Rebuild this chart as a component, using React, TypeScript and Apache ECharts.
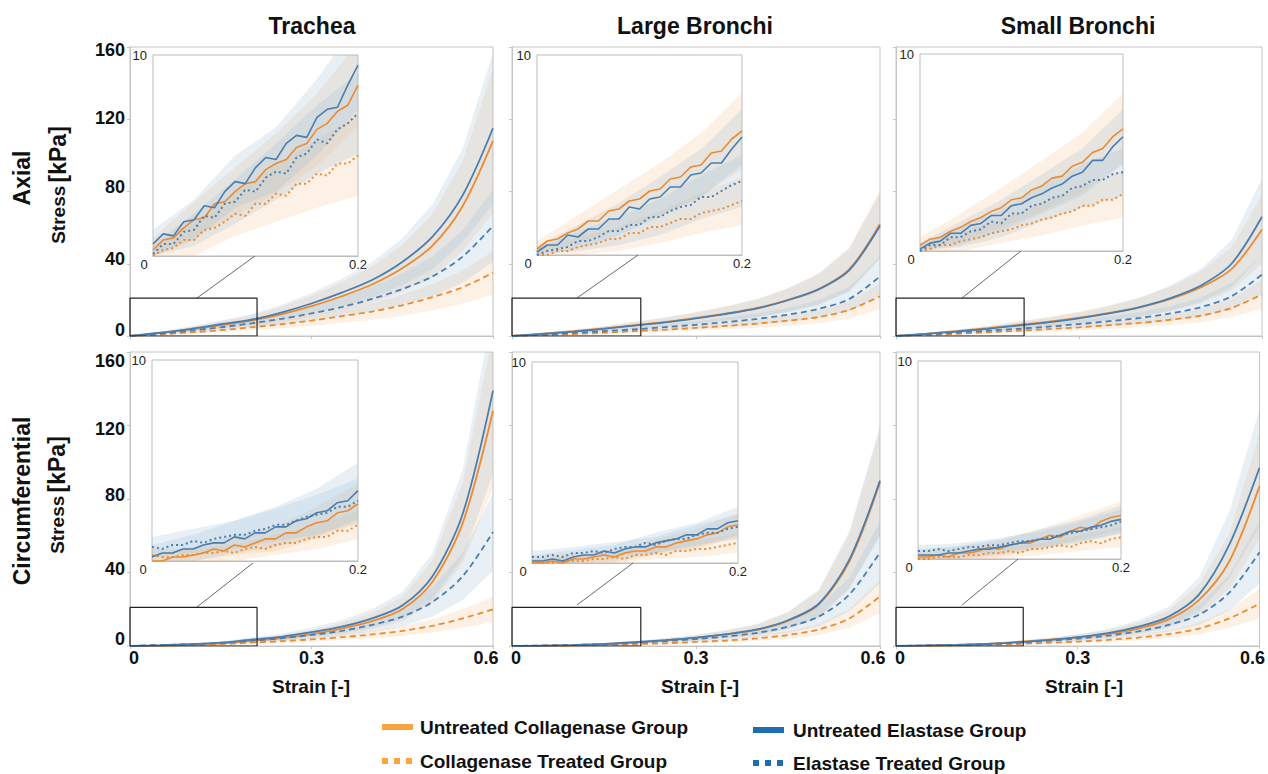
import React, { useEffect, useRef } from "react";
import * as echarts from "echarts";

// ---------- axes / categories ----------
const COLUMNS = ["Trachea", "Large Bronchi", "Small Bronchi"];
const ROWS = ["Axial", "Circumferential"];
const STRESS_TICKS = [0, 40, 80, 120, 160];
const STRAIN_TICKS = [0, 0.3, 0.6];
const INSET_STRESS_MAX = 10;
const INSET_STRAIN_MAX = 0.2;
const ZOOM_BOX = [0.21, 21];
const LEGEND = [
  "Untreated Collagenase Group",
  "Collagenase Treated Group",
  "Untreated Elastase Group",
  "Elastase Treated Group",
];

const STRAIN = [0, 0.05, 0.1, 0.15, 0.2, 0.25, 0.3, 0.35, 0.4, 0.45, 0.5, 0.55, 0.6];
const INSET_STRAIN = [0, 0.01, 0.02, 0.03, 0.04, 0.05, 0.06, 0.07, 0.08, 0.09, 0.1, 0.11, 0.12, 0.13, 0.14, 0.15, 0.16, 0.17, 0.18, 0.19, 0.2];
const INSET_BAND_STRAIN = [0, 0.04, 0.08, 0.12, 0.16, 0.2];

// ---------- Trachea, axial ----------
const taUC = [0, 1.7, 3.7, 6, 8.5, 12, 16.5, 22, 28.5, 37.5, 50, 72, 108];
const taUCsd = [0, 0.6, 1.3, 2.1, 3, 4.2, 5.8, 7.7, 10, 13, 17.5, 25, 40];
const taCT = [0, 0.9, 2, 3.2, 4.8, 6.5, 8.5, 11, 13.5, 17, 21.5, 27, 35];
const taCTsd = [0, 0.3, 0.7, 1.1, 1.6, 2.2, 2.9, 3.7, 4.6, 5.8, 7.3, 9.2, 12];
const taUE = [0, 1.8, 4, 6.5, 9, 13, 18, 24, 31, 41, 55, 78, 115];
const taUEsd = [0, 0.6, 1.3, 2.1, 3, 4.2, 5.8, 7.7, 10, 13, 18, 26, 42];
const taET = [0, 1.3, 3, 4.8, 7, 9.5, 12.5, 16, 20.5, 26, 33, 44, 61];
const taETsd = [0, 0.4, 1, 1.6, 2.3, 3.1, 4.1, 5.3, 6.8, 8.6, 11, 14.5, 20];
const taInUC = [0.3, 0.8, 0.9, 1.4, 1.8, 1.9, 2.6, 2.7, 3.2, 3.6, 3.7, 4.3, 4.6, 4.8, 5.4, 5.6, 6.3, 6.6, 7.2, 7.5, 8.5];
const taInCT = [0.0, 0.3, 0.4, 0.8, 0.8, 1.3, 1.4, 1.7, 2.1, 2.0, 2.6, 2.6, 3.1, 3.0, 3.6, 3.6, 4.1, 4.0, 4.6, 4.6, 5.0];
const taInUE = [0.6, 1.1, 1.0, 1.7, 1.8, 2.5, 2.4, 3.2, 3.7, 3.6, 4.4, 4.9, 4.8, 5.6, 6.0, 5.9, 6.9, 7.3, 7.4, 8.5, 9.5];
const taInET = [0.1, 0.6, 0.6, 1.2, 1.3, 2.0, 1.9, 2.6, 2.7, 3.3, 3.2, 3.9, 4.2, 4.1, 4.9, 5.1, 5.8, 5.6, 6.3, 6.6, 7.1];
const taInUCsd = [0.6, 0.9, 1.2, 1.5, 1.8, 2.1];
const taInCTsd = [0.5, 0.8, 1.1, 1.4, 1.7, 2.0];
const taInUEsd = [0.7, 1.0, 1.3, 1.6, 1.9, 2.2];
const taInETsd = [0.5, 0.8, 1.1, 1.4, 1.7, 2.0];

// ---------- Large Bronchi, axial ----------
const laUC = [0, 1.3, 2.7, 4.2, 6, 7.8, 10, 12.5, 15.5, 20, 26, 37, 62];
const laUCsd = [0, 0.4, 0.9, 1.4, 2, 2.6, 3.3, 4.1, 5.1, 6.6, 8.6, 12, 19];
const laCT = [0, 0.5, 1.1, 1.8, 2.7, 3.5, 4.5, 5.6, 6.9, 8.5, 10.5, 14.5, 22];
const laCTsd = [0, 0.2, 0.4, 0.6, 0.9, 1.2, 1.5, 1.8, 2.3, 2.8, 3.5, 4.8, 7];
const laUE = [0, 1.1, 2.4, 4, 5.8, 7.6, 9.8, 12.3, 15.3, 19.8, 25.8, 36.5, 61];
const laUEsd = [0, 0.4, 0.8, 1.3, 1.9, 2.5, 3.2, 4, 5, 6.5, 8.5, 12, 18];
const laET = [0, 0.8, 1.7, 2.7, 3.7, 4.9, 6.2, 7.7, 9.5, 11.8, 15, 20.5, 33];
const laETsd = [0, 0.3, 0.6, 0.9, 1.2, 1.6, 2, 2.5, 3.1, 3.9, 5, 6.8, 11];
const laInUC = [0.3, 0.7, 0.8, 1.1, 1.3, 1.7, 1.7, 2.2, 2.3, 2.7, 2.8, 3.2, 3.3, 3.8, 3.9, 4.4, 4.5, 5.1, 5.2, 5.8, 6.2];
const laInCT = [0.0, 0.0, 0.2, 0.2, 0.4, 0.5, 0.6, 0.8, 0.8, 1.1, 1.1, 1.4, 1.4, 1.6, 1.8, 1.8, 2.1, 2.2, 2.3, 2.5, 2.7];
const laInUE = [0.15, 0.5, 0.5, 1.0, 0.9, 1.3, 1.3, 1.8, 1.8, 2.4, 2.3, 2.8, 2.9, 3.4, 3.4, 4.0, 4.1, 4.6, 4.6, 5.3, 5.9];
const laInET = [0.0, 0.2, 0.3, 0.4, 0.7, 0.7, 0.9, 1.2, 1.2, 1.5, 1.5, 1.9, 1.9, 2.2, 2.4, 2.5, 2.9, 2.9, 3.2, 3.5, 3.7];
const laInUCsd = [0.4, 0.7, 1.0, 1.3, 1.6, 1.9];
const laInCTsd = [0.3, 0.5, 0.6, 0.8, 1.0, 1.2];
const laInUEsd = [0.3, 0.6, 0.8, 1.0, 1.2, 1.4];
const laInETsd = [0.3, 0.5, 0.7, 0.9, 1.1, 1.3];

// ---------- Small Bronchi, axial ----------
const saUC = [0, 1.3, 2.7, 4.3, 6.1, 8, 10.2, 12.8, 16, 20.5, 27, 37, 59];
const saUCsd = [0, 0.4, 0.9, 1.4, 2, 2.6, 3.4, 4.2, 5.3, 6.8, 8.9, 12, 19];
const saCT = [0, 0.6, 1.2, 2, 2.9, 3.8, 4.8, 6, 7.3, 9, 11.3, 15.5, 23];
const saCTsd = [0, 0.2, 0.4, 0.7, 1, 1.3, 1.6, 2, 2.4, 3, 3.7, 5.1, 8];
const saUE = [0, 1.2, 2.5, 4, 5.8, 7.6, 9.8, 12.5, 16, 21, 28, 40, 66];
const saUEsd = [0, 0.4, 0.8, 1.3, 1.9, 2.5, 3.2, 4.1, 5.3, 6.9, 9.2, 13, 21];
const saET = [0, 0.9, 1.9, 2.9, 4, 5.2, 6.6, 8.2, 10, 12.5, 16, 22, 34];
const saETsd = [0, 0.3, 0.6, 1, 1.3, 1.7, 2.2, 2.7, 3.3, 4.1, 5.3, 7.3, 11];
const saInUC = [0.3, 0.6, 0.7, 1.0, 1.2, 1.5, 1.7, 2.0, 2.2, 2.6, 2.7, 3.1, 3.3, 3.7, 3.8, 4.3, 4.5, 5.0, 5.2, 5.8, 6.2];
const saInCT = [0.0, 0.1, 0.3, 0.3, 0.5, 0.6, 0.7, 0.9, 1.0, 1.1, 1.3, 1.4, 1.6, 1.7, 1.9, 2.0, 2.3, 2.3, 2.6, 2.6, 2.9];
const saInUE = [0.1, 0.4, 0.5, 0.9, 0.9, 1.3, 1.4, 1.8, 1.8, 2.3, 2.4, 2.7, 2.9, 3.2, 3.4, 3.8, 4.0, 4.6, 4.6, 5.3, 5.8];
const saInET = [0.0, 0.3, 0.3, 0.7, 0.7, 1.0, 1.1, 1.5, 1.4, 1.9, 1.9, 2.3, 2.4, 2.7, 2.8, 3.2, 3.3, 3.6, 3.6, 3.9, 4.0];
const saInUCsd = [0.4, 0.7, 1.0, 1.3, 1.5, 1.8];
const saInCTsd = [0.3, 0.5, 0.6, 0.8, 1.0, 1.2];
const saInUEsd = [0.3, 0.6, 0.8, 1.0, 1.2, 1.4];
const saInETsd = [0.3, 0.5, 0.7, 0.9, 1.1, 1.2];

// ---------- Trachea, circumferential ----------
const tcUC = [0, 0.2, 0.6, 1.4, 2.8, 4.3, 6.5, 9.5, 13.5, 20, 35, 67, 128];
const tcUCsd = [0, 0.1, 0.3, 0.5, 1, 1.5, 2.2, 3.2, 4.5, 6.7, 11.5, 22, 42];
const tcCT = [0, 0.2, 0.5, 1, 1.8, 2.6, 3.6, 4.8, 6.3, 8.2, 11, 15, 20];
const tcCTsd = [0, 0.1, 0.2, 0.3, 0.6, 0.9, 1.2, 1.6, 2.1, 2.7, 3.6, 5, 7];
const tcUE = [0, 0.4, 1, 1.8, 3.5, 5, 7.5, 10.5, 15, 22, 38, 72, 139];
const tcUEsd = [0, 0.2, 0.4, 0.7, 1.2, 1.7, 2.5, 3.5, 5, 7.3, 12.5, 24, 45];
const tcET = [0, 0.5, 1, 1.7, 2.9, 4.2, 6, 8.2, 11.5, 16, 24, 38, 62];
const tcETsd = [0, 0.2, 0.4, 0.6, 1, 1.4, 2, 2.8, 3.9, 5.4, 8, 13, 21];
const tcInUC = [0.0, 0.0, 0.2, 0.2, 0.3, 0.4, 0.6, 0.5, 0.8, 0.7, 0.9, 1.1, 1.1, 1.4, 1.4, 1.7, 1.9, 2.0, 2.4, 2.5, 2.85];
const tcInCT = [0.3, 0.2, 0.2, 0.3, 0.3, 0.4, 0.4, 0.5, 0.4, 0.6, 0.7, 0.6, 0.8, 0.9, 0.9, 1.1, 1.2, 1.2, 1.5, 1.5, 1.8];
const tcInUE = [0.2, 0.4, 0.4, 0.6, 0.6, 0.8, 0.9, 0.9, 1.2, 1.1, 1.4, 1.4, 1.7, 1.7, 2.0, 2.1, 2.4, 2.5, 2.9, 3.0, 3.5];
const tcInET = [0.7, 0.6, 0.8, 0.8, 1.0, 0.9, 1.1, 1.2, 1.3, 1.3, 1.5, 1.6, 1.8, 1.8, 2.0, 2.2, 2.3, 2.4, 2.7, 2.7, 3.0];
const tcInUCsd = [0.3, 0.4, 0.5, 0.6, 0.8, 1.0];
const tcInCTsd = [0.3, 0.3, 0.4, 0.5, 0.6, 0.7];
const tcInUEsd = [0.6, 0.7, 0.8, 1.0, 1.2, 1.4];
const tcInETsd = [0.5, 0.6, 0.7, 0.8, 1.0, 1.1];

// ---------- Large Bronchi, circumferential ----------
const lcUC = [0, 0.1, 0.4, 0.9, 1.9, 3, 4.4, 6.3, 8.8, 13.7, 22.5, 46, 89];
const lcUCsd = [0, 0.05, 0.15, 0.3, 0.6, 1, 1.5, 2.1, 2.9, 4.5, 7.4, 15, 29];
const lcCT = [0, 0.1, 0.3, 0.6, 1, 1.5, 2.2, 3, 4.2, 6, 9, 15, 27];
const lcCTsd = [0, 0.05, 0.1, 0.2, 0.3, 0.5, 0.7, 1, 1.4, 2, 3, 5, 9];
const lcUE = [0, 0.2, 0.5, 1.1, 2.1, 3.2, 4.6, 6.5, 9, 14, 23, 47, 90];
const lcUEsd = [0, 0.1, 0.2, 0.4, 0.7, 1.1, 1.5, 2.2, 3, 4.6, 7.6, 15.5, 30];
const lcET = [0, 0.3, 0.6, 1, 1.8, 2.7, 3.8, 5.2, 7.2, 10.5, 16, 28, 51];
const lcETsd = [0, 0.1, 0.2, 0.3, 0.6, 0.9, 1.3, 1.7, 2.4, 3.5, 5.3, 9.2, 17];
const lcInUC = [0.0, 0.0, 0.1, 0.0, 0.2, 0.2, 0.3, 0.4, 0.3, 0.5, 0.6, 0.6, 0.8, 0.8, 1.0, 1.1, 1.2, 1.4, 1.5, 1.8, 1.9];
const lcInCT = [0.0, 0.0, 0.0, 0.1, 0.1, 0.1, 0.2, 0.2, 0.3, 0.2, 0.4, 0.4, 0.5, 0.4, 0.6, 0.6, 0.7, 0.7, 0.8, 0.9, 1.0];
const lcInUE = [0.1, 0.1, 0.2, 0.1, 0.3, 0.4, 0.4, 0.6, 0.5, 0.7, 0.8, 0.8, 1.0, 1.1, 1.2, 1.4, 1.4, 1.7, 1.7, 2.0, 2.1];
const lcInET = [0.3, 0.3, 0.4, 0.3, 0.5, 0.5, 0.6, 0.5, 0.7, 0.8, 0.8, 1.0, 0.9, 1.1, 1.2, 1.2, 1.4, 1.5, 1.5, 1.7, 1.8];
const lcInUCsd = [0.2, 0.3, 0.35, 0.4, 0.5, 0.6];
const lcInCTsd = [0.2, 0.2, 0.3, 0.3, 0.4, 0.5];
const lcInUEsd = [0.3, 0.35, 0.4, 0.5, 0.6, 0.7];
const lcInETsd = [0.3, 0.3, 0.35, 0.4, 0.5, 0.6];

// ---------- Small Bronchi, circumferential ----------
const scUC = [0, 0.2, 0.5, 1.1, 2.2, 3.3, 4.7, 6.6, 9.5, 14.5, 25, 46, 87];
const scUCsd = [0, 0.1, 0.2, 0.4, 0.7, 1.1, 1.6, 2.2, 3.1, 4.8, 8.3, 15, 29];
const scCT = [0, 0.1, 0.3, 0.6, 1.1, 1.7, 2.4, 3.3, 4.6, 6.5, 9.5, 15, 23];
const scCTsd = [0, 0.05, 0.1, 0.2, 0.4, 0.6, 0.8, 1.1, 1.5, 2.1, 3.1, 5, 8];
const scUE = [0, 0.3, 0.6, 1.1, 2, 3.2, 4.8, 7, 10.5, 16, 28, 55, 97];
const scUEsd = [0, 0.1, 0.2, 0.4, 0.7, 1.1, 1.6, 2.3, 3.5, 5.3, 9.2, 18, 32];
const scET = [0, 0.3, 0.6, 1.1, 1.9, 2.8, 4, 5.6, 8, 11.5, 17, 29, 51];
const scETsd = [0, 0.1, 0.2, 0.4, 0.6, 0.9, 1.3, 1.8, 2.6, 3.8, 5.6, 9.6, 17];
const scInUC = [0.1, 0.1, 0.2, 0.1, 0.3, 0.3, 0.4, 0.6, 0.5, 0.7, 0.8, 0.8, 1.0, 1.2, 1.1, 1.4, 1.6, 1.5, 1.9, 2.1, 2.2];
const scInCT = [0.0, 0.0, 0.1, 0.1, 0.1, 0.2, 0.2, 0.3, 0.3, 0.4, 0.3, 0.5, 0.5, 0.6, 0.7, 0.6, 0.8, 0.9, 0.8, 1.0, 1.1];
const scInUE = [0.2, 0.2, 0.2, 0.3, 0.3, 0.4, 0.5, 0.5, 0.6, 0.7, 0.8, 0.9, 1.0, 1.0, 1.2, 1.4, 1.4, 1.6, 1.7, 1.9, 2.0];
const scInET = [0.4, 0.4, 0.5, 0.4, 0.5, 0.6, 0.6, 0.7, 0.7, 0.8, 0.9, 0.9, 1.0, 1.1, 1.2, 1.3, 1.4, 1.5, 1.6, 1.7, 1.9];
const scInUCsd = [0.3, 0.35, 0.4, 0.5, 0.6, 0.7];
const scInCTsd = [0.2, 0.2, 0.3, 0.3, 0.4, 0.5];
const scInUEsd = [0.3, 0.35, 0.4, 0.5, 0.6, 0.7];
const scInETsd = [0.3, 0.3, 0.35, 0.4, 0.5, 0.6];

// ---------- assemble panels (order: UC, CT, UE, ET) ----------
const PANELS = [
  { main: [[taUC, taUCsd], [taCT, taCTsd], [taUE, taUEsd], [taET, taETsd]], inset: [[taInUC, taInUCsd], [taInCT, taInCTsd], [taInUE, taInUEsd], [taInET, taInETsd]] },
  { main: [[laUC, laUCsd], [laCT, laCTsd], [laUE, laUEsd], [laET, laETsd]], inset: [[laInUC, laInUCsd], [laInCT, laInCTsd], [laInUE, laInUEsd], [laInET, laInETsd]] },
  { main: [[saUC, saUCsd], [saCT, saCTsd], [saUE, saUEsd], [saET, saETsd]], inset: [[saInUC, saInUCsd], [saInCT, saInCTsd], [saInUE, saInUEsd], [saInET, saInETsd]] },
  { main: [[tcUC, tcUCsd], [tcCT, tcCTsd], [tcUE, tcUEsd], [tcET, tcETsd]], inset: [[tcInUC, tcInUCsd], [tcInCT, tcInCTsd], [tcInUE, tcInUEsd], [tcInET, tcInETsd]] },
  { main: [[lcUC, lcUCsd], [lcCT, lcCTsd], [lcUE, lcUEsd], [lcET, lcETsd]], inset: [[lcInUC, lcInUCsd], [lcInCT, lcInCTsd], [lcInUE, lcInUEsd], [lcInET, lcInETsd]] },
  { main: [[scUC, scUCsd], [scCT, scCTsd], [scUE, scUEsd], [scET, scETsd]], inset: [[scInUC, scInUCsd], [scInCT, scInCTsd], [scInUE, scInUEsd], [scInET, scInETsd]] },
];

// ---------- layout & style ----------
const MAIN_LAYOUT = [
  [130, 47, 363, 289], [512, 47, 368, 289], [896, 47, 366, 289],
  [130, 352, 363, 294], [512, 352, 368, 294], [896, 352, 366, 294],
];
const INSET_LAYOUT = [
  [153, 55, 205, 201], [537, 55, 205, 200], [920, 54, 203, 197],
  [152, 360, 206, 201], [532, 362, 206, 201], [918, 361, 203, 198],
];
const CONNECTORS = [
  [197, 298, 255, 256], [577, 298, 638, 255], [962, 298, 1021, 251],
  [197, 607, 253, 563], [577, 605, 633, 563], [962, 605, 1018, 559],
];
// vertical nudge (px) of the y tick labels, per row, for ticks 0,40,80,120,160
const Y_LABEL_NUDGE = [[-6, -5, -5, -1, 3], [-7, -4, -4, 3, 9]];
const FONT = '"Liberation Sans", Arial, Helvetica, sans-serif';
const ORANGE = "#EE8A2E";
const BLUE = "#4A7DB0";
const ORANGE_BAND = "rgba(246, 178, 118, 0.20)";
const BLUE_BAND = "rgba(150, 186, 216, 0.22)";
const LEGEND_ORANGE = "#F9A43E";
const LEGEND_BLUE = "#1F6EB4";
const BORDER = "#c4c4c4";
const SERIES_STYLE = [
  { color: ORANGE, band: ORANGE_BAND, treated: false },
  { color: ORANGE, band: ORANGE_BAND, treated: true },
  { color: BLUE, band: BLUE_BAND, treated: false },
  { color: BLUE, band: BLUE_BAND, treated: true },
];
const TICK_FONT = { fontSize: 18, fontWeight: "bold", fontFamily: FONT, color: "#111" };

function bandSeries(axisIndex: number, xs: number[], mean: number[], sd: number[], fill: string, z: number) {
  const data = xs.map((x, i) => [x, Math.max(0, mean[i] - sd[i]), mean[i] + sd[i]]);
  return {
    type: "custom",
    xAxisIndex: axisIndex,
    yAxisIndex: axisIndex,
    clip: true,
    silent: true,
    z,
    data,
    encode: { x: 0, y: [1, 2] },
    renderItem: (params: any, api: any) => {
      if (params.dataIndex !== 0) return null;
      const upper = data.map((d) => api.coord([d[0], d[2]]));
      const lower = data.map((d) => api.coord([d[0], d[1]])).reverse();
      return { type: "polygon", shape: { points: upper.concat(lower) }, style: { fill } };
    },
  };
}

function nudgeStyle(d: number) {
  return { ...TICK_FONT, padding: d < 0 ? [0, 0, -2 * d, 0] : [2 * d, 0, 0, 0] };
}

function buildOption() {
  const grid: any[] = [];
  const xAxis: any[] = [];
  const yAxis: any[] = [];
  const series: any[] = [];

  PANELS.forEach((p, i) => {
    const row = Math.floor(i / 3);
    const col = i % 3;
    const L = MAIN_LAYOUT[i];
    grid.push({ left: L[0], top: L[1], width: L[2], height: L[3], show: true, borderColor: BORDER, borderWidth: 1, backgroundColor: "transparent" });
    xAxis.push({
      type: "value", gridIndex: i, min: STRAIN_TICKS[0], max: STRAIN_TICKS[2], interval: 0.3,
      axisLine: { show: true, lineStyle: { color: BORDER } },
      axisTick: { show: true, length: 3, lineStyle: { color: BORDER } },
      splitLine: { show: false },
      axisLabel: {
        show: row === 1, margin: 3, ...TICK_FONT,
        showMinLabel: true, showMaxLabel: true,
        formatter: (v: number) => (v === 0 ? "{l|0}" : v > 0.5 ? "{r|0.6}" : "{m|0.3}"),
        rich: {
          l: { ...TICK_FONT, padding: [0, 0, 0, 8] },
          m: { ...TICK_FONT },
          r: { ...TICK_FONT, padding: [0, 14, 0, 0] },
        },
      },
    });
    const nudges = Y_LABEL_NUDGE[row];
    const rich: any = {};
    nudges.forEach((d, k) => { rich["t" + k] = nudgeStyle(d); });
    yAxis.push({
      type: "value", gridIndex: i, min: STRESS_TICKS[0], max: STRESS_TICKS[4], interval: 40,
      axisLine: { show: true, lineStyle: { color: BORDER } },
      axisTick: { show: true, length: 3, lineStyle: { color: BORDER } },
      splitLine: { show: false },
      axisLabel: {
        show: col === 0, margin: 5, ...TICK_FONT,
        formatter: (v: number) => `{t${STRESS_TICKS.indexOf(v)}|${v}}`,
        rich,
      },
    });
    p.main.forEach((s, k) => {
      series.push(bandSeries(i, STRAIN, s[0], s[1], SERIES_STYLE[k].band, 1));
    });
    p.main.forEach((s, k) => {
      const st = SERIES_STYLE[k];
      series.push({
        type: "line", xAxisIndex: i, yAxisIndex: i, symbol: "none", smooth: 0.3, silent: true, z: 3,
        data: STRAIN.map((x, j) => [x, s[0][j]]),
        lineStyle: { color: st.color, width: 1.8, type: st.treated ? [6, 4] : "solid" },
      });
    });
    series.push({
      type: "line", xAxisIndex: i, yAxisIndex: i, symbol: "none", silent: true, z: 5,
      data: [[0, 0], [ZOOM_BOX[0], 0], [ZOOM_BOX[0], ZOOM_BOX[1]], [0, ZOOM_BOX[1]], [0, 0]],
      lineStyle: { color: "#222", width: 1.2 },
    });
  });

  PANELS.forEach((p, i) => {
    const idx = 6 + i;
    const L = INSET_LAYOUT[i];
    grid.push({ left: L[0], top: L[1], width: L[2], height: L[3], show: true, borderColor: "#bdbdbd", borderWidth: 1, backgroundColor: "#ffffff", z: 1 });
    xAxis.push({
      type: "value", gridIndex: idx, min: 0, max: INSET_STRAIN_MAX, interval: 0.2,
      axisLine: { show: true, lineStyle: { color: "#bdbdbd" } },
      axisTick: { show: false },
      splitLine: { show: false },
      axisLabel: {
        show: true, margin: 2, fontSize: 13, fontFamily: FONT, color: "#222",
        showMinLabel: true, showMaxLabel: true,
        formatter: (v: number) => (v === 0 ? "{a|0}" : "{b|0.2}"),
        rich: { a: { fontSize: 13, fontFamily: FONT, color: "#222", padding: [0, 18, 0, 0] }, b: { fontSize: 13, fontFamily: FONT, color: "#222" } },
      },
    });
    yAxis.push({
      type: "value", gridIndex: idx, min: 0, max: INSET_STRESS_MAX, interval: 2.5,
      axisLine: { show: true, lineStyle: { color: "#bdbdbd" } },
      axisTick: { show: true, inside: true, length: 2, lineStyle: { color: "#cfcfcf" } },
      splitLine: { show: false },
      axisLabel: {
        show: true, margin: 6, fontSize: 13, fontFamily: FONT, color: "#222",
        formatter: (v: number) => (v === INSET_STRESS_MAX ? "10" : ""),
      },
    });
    p.inset.forEach((s, k) => {
      const bandMean = INSET_BAND_STRAIN.map((_, j) => s[0][j * 4]);
      series.push(bandSeries(idx, INSET_BAND_STRAIN, bandMean, s[1], SERIES_STYLE[k].band, 11));
    });
    p.inset.forEach((s, k) => {
      const st = SERIES_STYLE[k];
      series.push({
        type: "line", xAxisIndex: idx, yAxisIndex: idx, symbol: "none", silent: true, z: 13,
        data: INSET_STRAIN.map((x, j) => [x, s[0][j]]),
        lineStyle: { color: st.color, width: st.treated ? 2 : 1.6, type: st.treated ? [2, 3] : "solid" },
      });
    });
  });

  const graphic: any[] = [];
  const colCenters = [312, 695, 1078];
  COLUMNS.forEach((t, c) => {
    graphic.push({ type: "text", x: colCenters[c], y: 26, style: { text: t, fontSize: 23, fontWeight: "bold", fontFamily: FONT, fill: "#111", align: "center", verticalAlign: "middle" } });
    graphic.push({ type: "text", x: [311, 700, 1084][c], y: 686, style: { text: "Strain [-]", fontSize: 19, fontWeight: "bold", fontFamily: FONT, fill: "#111", align: "center", verticalAlign: "middle" } });
  });
  const rowCenters = [[22, 178, 58, 185], [22, 501, 57, 495]];
  ROWS.forEach((r, k) => {
    const [x1, y1, x2, y2] = rowCenters[k];
    graphic.push({ type: "text", x: x1, y: y1, rotation: Math.PI / 2, style: { text: r, fontSize: 23, fontWeight: "bold", fontFamily: FONT, fill: "#111", align: "center", verticalAlign: "middle" } });
    graphic.push({
      type: "text", x: x2, y: y2, rotation: Math.PI / 2,
      style: {
        text: "{s|Stress} {k|[kPa]}", align: "center", verticalAlign: "middle",
        rich: {
          s: { fontSize: 19, fontWeight: "bold", fontFamily: FONT, fill: "#111" },
          k: { fontSize: 23, fontWeight: "bold", fontFamily: FONT, fill: "#111" },
        },
      },
    });
  });
  CONNECTORS.forEach((cn) => {
    graphic.push({ type: "line", z: 4, shape: { x1: cn[0], y1: cn[1], x2: cn[2], y2: cn[3] }, style: { stroke: "#444", lineWidth: 0.8 } });
  });
  // legend
  const legendPos = [
    [382, 727, LEGEND_ORANGE, false, 420],
    [382, 761, LEGEND_ORANGE, true, 420],
    [753, 730, LEGEND_BLUE, false, 793],
    [753, 763, LEGEND_BLUE, true, 793],
  ];
  LEGEND.forEach((name, k) => {
    const [lx, ly, color, dotted, tx] = legendPos[k] as any;
    if (dotted) {
      for (let d = 0; d < 3; d++) {
        graphic.push({ type: "rect", shape: { x: lx + d * 12, y: ly - 3, width: 6, height: 6 }, style: { fill: color } });
      }
    } else {
      graphic.push({ type: "rect", shape: { x: lx, y: ly - 3, width: 31, height: 6 }, style: { fill: color } });
    }
    graphic.push({ type: "text", x: tx, y: ly, style: { text: name, fontSize: 19, fontWeight: "bold", fontFamily: FONT, fill: "#111", align: "left", verticalAlign: "middle" } });
  });

  return { animation: false, backgroundColor: "#ffffff", grid, xAxis, yAxis, series, graphic };
}

export default function App() {
  const ref = useRef<HTMLDivElement>(null);
  useEffect(() => {
    if (!ref.current) return;
    const chart = echarts.init(ref.current, undefined, { renderer: "svg" });
    chart.setOption(buildOption() as any);
    return () => chart.dispose();
  }, []);
  return <div ref={ref} style={{ position: "absolute", left: 0, top: 0, width: 1268, height: 774 }} />;
}
